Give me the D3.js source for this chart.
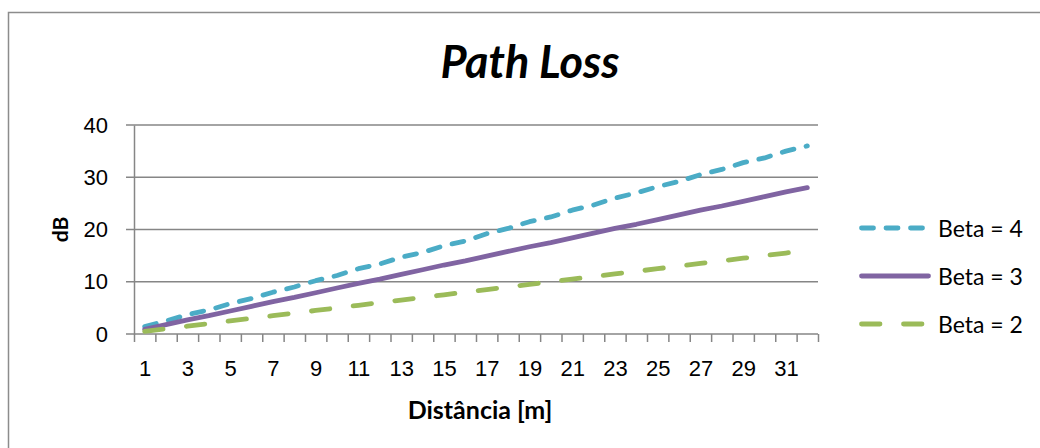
<!DOCTYPE html>
<html>
<head>
<meta charset="utf-8">
<script src="https://cdn.jsdelivr.net/npm/d3@7"></script>
<style>
  body { margin: 0; background: #fff; }
  svg { display: block; font-family: Lato, "Open Sans", sans-serif; }
</style>
</head>
<body>
<div id="wrapper"></div>
<script>
// data
const distances = d3.range(1, 33);
const xTickLabels = [1, 3, 5, 7, 9, 11, 13, 15, 17, 19, 21, 23, 25, 27, 29, 31];
const yTickValues = [0, 10, 20, 30, 40];

const beta4 = [1.4, 2.5, 3.7, 4.6, 5.8, 6.8, 8.0, 9.0, 10.2, 11.2, 12.5, 13.4, 14.7, 15.6, 16.9, 17.8,
               19.2, 20.2, 21.5, 22.4, 23.7, 24.7, 26.0, 27.0, 28.2, 29.2, 30.5, 31.5, 32.8, 33.7, 35.0, 36.0];
const beta3 = [0.9, 1.8, 2.7, 3.5, 4.4, 5.3, 6.2, 7.0, 7.9, 8.8, 9.7, 10.5, 11.4, 12.3, 13.2, 14.0,
               14.9, 15.8, 16.7, 17.5, 18.4, 19.3, 20.2, 21.0, 21.9, 22.8, 23.7, 24.5, 25.4, 26.3, 27.2, 28.0];
const beta2 = [0.5, 1.0, 1.5, 2.0, 2.5, 3.0, 3.5, 4.0, 4.5, 5.0, 5.5, 6.0, 6.5, 7.0, 7.5, 8.0,
               8.5, 9.0, 9.5, 10.0, 10.5, 11.0, 11.5, 12.0, 12.5, 13.0, 13.5, 14.0, 14.5, 15.0, 15.5, 16.0];

const seriesNames = ["Beta = 4", "Beta = 3", "Beta = 2"];

const width = 1040, height = 448;
const padLeft = 134, padRight = 818, padTop = 125, padBottom = 334;
const gridColor = "#868686";

let series = [
    {name: seriesNames[0], values: beta4, color: "#4BACC6", dash: "12,12.5"},
    {name: seriesNames[1], values: beta3, color: "#8064A2", dash: null},
    {name: seriesNames[2], values: beta2, color: "#9BBB59", dash: "18.5,23.5"}
];

let svg = d3.select("#wrapper")
            .append("svg")
            .attr("width", width)
            .attr("height", height);

// chart border
svg.append("rect")
    .attr("x", 8.5)
    .attr("y", 12.5)
    .attr("width", width)
    .attr("height", height)
    .attr("fill", "none")
    .attr("stroke", "#8c8c8c")
    .attr("stroke-width", 1.5);

let xScale = d3.scaleLinear()
                .domain([0.5, 32.5])
                .range([padLeft, padRight]);

let yScale = d3.scaleLinear()
                .domain([0, 40])
                .range([padBottom, padTop]);

// gridlines
svg.append("g")
    .selectAll("line")
    .data(yTickValues)
    .enter()
    .append("line")
    .attr("x1", padLeft - 8)
    .attr("x2", padRight)
    .attr("y1", d => yScale(d))
    .attr("y2", d => yScale(d))
    .attr("stroke", gridColor)
    .attr("stroke-width", 1.5);

let yAxisFunction = d3.axisLeft(yScale)
                        .tickValues(yTickValues)
                        .tickSize(0)
                        .tickPadding(26);

let yG = svg.append("g")
            .attr("transform", `translate(${padLeft}, 0)`)
            .call(yAxisFunction);
yG.select(".domain").attr("stroke", gridColor).attr("stroke-width", 1.5);
yG.selectAll("text").style("font-size", "22px").style("fill", "#000");

// x tick marks sit between categories
let xTickFunction = d3.axisBottom(xScale)
                        .tickValues(d3.range(0.5, 33, 1))
                        .tickSize(8)
                        .tickFormat("");

let xTicksG = svg.append("g")
                .attr("transform", `translate(0, ${padBottom})`)
                .call(xTickFunction);
xTicksG.select(".domain").remove();
xTicksG.selectAll("line").attr("stroke", gridColor).attr("stroke-width", 1.5);

let xAxisFunction = d3.axisBottom(xScale)
                        .tickValues(xTickLabels)
                        .tickSize(0)
                        .tickPadding(26);

let xG = svg.append("g")
            .attr("transform", `translate(0, ${padBottom})`)
            .call(xAxisFunction);
xG.select(".domain").remove();
xG.selectAll("text").style("font-size", "22px").style("fill", "#000");

// lines
const dMaker = d3.line()
            .x((d, i) => xScale(distances[i]))
            .y(d => yScale(d))
            .curve(d3.curveLinear);

svg.append("g")
    .selectAll("path")
    .data(series)
    .enter()
    .append("path")
    .attr("d", d => dMaker(d.values))
    .attr("fill", "none")
    .attr("stroke", d => d.color)
    .attr("stroke-width", 4.8)
    .attr("stroke-linecap", "round")
    .attr("stroke-linejoin", "round")
    .attr("stroke-dasharray", d => d.dash);

// titles
svg.append("text")
    .attr("x", 530)
    .attr("y", 78)
    .style("text-anchor", "middle")
    .style("font-size", "45px")
    .style("font-weight", "700")
    .style("font-style", "italic")
    .text("Path Loss");

svg.append("text")
    .attr("x", 480)
    .attr("y", 419)
    .style("text-anchor", "middle")
    .style("font-size", "25px")
    .style("font-weight", "700")
    .text("Distância [m]");

svg.append("text")
    .attr("transform", "rotate(-90)")
    .attr("x", -229.5)
    .attr("y", 68)
    .style("text-anchor", "middle")
    .style("font-size", "21px")
    .style("font-weight", "700")
    .text("dB");

// legend
let legendY = d3.scalePoint()
                .domain(seriesNames)
                .range([228, 324]);

let legend = svg.append("g")
                .selectAll("g")
                .data(series)
                .enter()
                .append("g")
                .attr("transform", d => `translate(0, ${legendY(d.name)})`);

legend.append("line")
    .attr("x1", 861.5)
    .attr("x2", d => d.dash ? 926 : 928.5)
    .attr("stroke", d => d.color)
    .attr("stroke-width", 4.8)
    .attr("stroke-linecap", "round")
    .attr("stroke-dasharray", d => d.dash);

legend.append("text")
    .attr("x", 938)
    .attr("y", 8.5)
    .style("font-size", "23px")
    .text(d => d.name);
</script>
</body>
</html>
